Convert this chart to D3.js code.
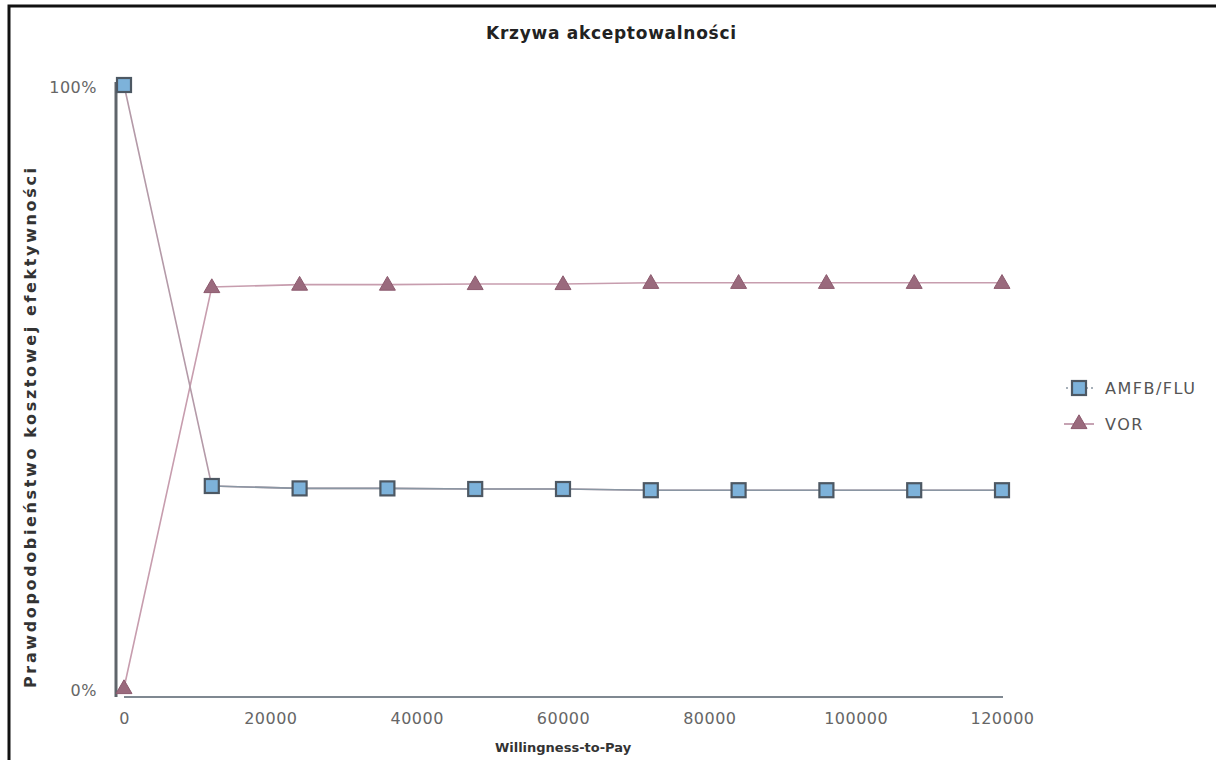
<!DOCTYPE html>
<html>
<head>
<meta charset="utf-8">
<script src="https://cdn.jsdelivr.net/npm/d3@7"></script>
<style>
  html, body { margin: 0; padding: 0; background: #ffffff; }
  svg { display: block; }
  text { font-family: "DejaVu Sans", "Liberation Sans", sans-serif; }
</style>
</head>
<body>
<svg id="chart" width="1216" height="760"></svg>
<script>
// Willingness-to-pay thresholds (x values)
const wtp = [0, 12000, 24000, 36000, 48000, 60000, 72000, 84000, 96000, 108000, 120000];
// Probability of cost-effectiveness per strategy
const amfbFlu = [1.0, 0.335, 0.331, 0.331, 0.330, 0.330, 0.328, 0.328, 0.328, 0.328, 0.328];
const vor     = [0.0, 0.665, 0.669, 0.669, 0.670, 0.670, 0.672, 0.672, 0.672, 0.672, 0.672];
const seriesNames = ["AMFB/FLU", "VOR"];
const xTicks = [0, 20000, 40000, 60000, 80000, 100000, 120000];
const yTicks = [0, 1];

const svg = d3.select("#chart");
const W = 1216, H = 760;

// outer frame
svg.append("rect").attr("x", 9).attr("y", 6).attr("width", W + 10).attr("height", H + 10)
  .attr("fill", "#fff").attr("stroke", "#111").attr("stroke-width", 3);

const x = d3.scaleLinear().domain([0, 120000]).range([124, 1002]);
const y = d3.scaleLinear().domain([0, 1]).range([688, 85]);
const axisY = 697;

// title
svg.append("text").attr("x", 611).attr("y", 39).attr("text-anchor", "middle")
  .attr("font-size", 17).attr("font-weight", 600).attr("fill", "#222")
  .attr("textLength", 250).attr("lengthAdjust", "spacing")
  .text("Krzywa akceptowalności");

// y axis line
svg.append("line").attr("x1", 116).attr("x2", 116).attr("y1", 82).attr("y2", axisY)
  .attr("stroke", "#5f656b").attr("stroke-width", 3);
// x axis line
svg.append("line").attr("x1", x(0)).attr("x2", x(120000) + 1).attr("y1", axisY).attr("y2", axisY)
  .attr("stroke", "#7f8891").attr("stroke-width", 2);

// x tick labels
const xAxis = d3.axisBottom(x).tickValues(xTicks).tickSize(0).tickPadding(0).tickFormat(d3.format("d"));
const gx = svg.append("g").attr("transform", `translate(0, ${axisY + 27})`).call(xAxis);
gx.select(".domain").remove();
gx.selectAll("text").attr("font-size", 16).attr("fill", "#666").attr("dy", 0)
  .attr("letter-spacing", 0.5)
  .attr("font-family", "\"DejaVu Sans\", sans-serif");

// y tick labels
const yAxis = d3.axisLeft(y).tickValues(yTicks).tickSize(0).tickPadding(0).tickFormat(d3.format(".0%"));
const gy = svg.append("g").attr("transform", "translate(97, 2)").call(yAxis);
gy.select(".domain").remove();
gy.selectAll("text").attr("font-size", 16).attr("fill", "#666").attr("letter-spacing", 0.5)
  .attr("font-family", "\"DejaVu Sans\", sans-serif");

// axis titles
svg.append("text").attr("x", 563).attr("y", 752).attr("text-anchor", "middle")
  .attr("font-size", 13).attr("font-weight", "bold").attr("fill", "#333").text("Willingness-to-Pay");
svg.append("text").attr("transform", "translate(36, 428) rotate(-90)").attr("text-anchor", "middle")
  .attr("font-size", 16).attr("font-weight", "bold").attr("fill", "#333")
  .attr("textLength", 520).attr("lengthAdjust", "spacing")
  .text("Prawdopodobieństwo kosztowej efektywności");

const line = d3.line().x((d, i) => x(wtp[i])).y(d => y(d));

// lines
svg.append("path").datum(vor).attr("d", line).attr("fill", "none")
  .attr("stroke", "#c79dae").attr("stroke-width", 1.6);
svg.append("path").datum(amfbFlu).attr("d", line).attr("fill", "none")
  .attr("stroke", "#b49aa8").attr("stroke-width", 1.6);
// after the first segment the AMFB/FLU line is grey-blue
svg.append("path").datum(amfbFlu.slice(1)).attr("d", d3.line().x((d, i) => x(wtp[i + 1])).y(d => y(d)))
  .attr("fill", "none").attr("stroke", "#8a96a3").attr("stroke-width", 1.6);

const tri = d3.symbol().type(d3.symbolTriangle).size(110);

function squareMarker(g, cx, cy) {
  g.append("rect").attr("x", cx - 7).attr("y", cy - 7).attr("width", 14).attr("height", 14)
    .attr("fill", "#7db2da").attr("stroke", "#4d5863").attr("stroke-width", 2.2);
}
function triMarker(g, cx, cy) {
  g.append("path").attr("d", tri).attr("transform", `translate(${cx}, ${cy + 1})`)
    .attr("fill", "#9a6a7d").attr("stroke", "#8c5a6e").attr("stroke-width", 1);
}

const mk = svg.append("g");
vor.forEach((v, i) => triMarker(mk, x(wtp[i]), y(v)));
amfbFlu.forEach((v, i) => squareMarker(mk, x(wtp[i]), y(v)));

// legend
const lg = svg.append("g");
lg.append("line").attr("x1", 1066).attr("x2", 1093).attr("y1", 388).attr("y2", 388)
  .attr("stroke", "#8a96a3").attr("stroke-width", 1.5).attr("stroke-dasharray", "2,3");
squareMarker(lg, 1079, 388);
lg.append("text").attr("x", 1105).attr("y", 394).attr("font-size", 16).attr("letter-spacing", 1.5)
  .attr("fill", "#555").text(seriesNames[0]);
lg.append("line").attr("x1", 1064).attr("x2", 1094).attr("y1", 424).attr("y2", 424)
  .attr("stroke", "#b3849a").attr("stroke-width", 1.5);
triMarker(lg, 1079, 423);
lg.append("text").attr("x", 1105).attr("y", 430).attr("font-size", 16).attr("letter-spacing", 1.5)
  .attr("fill", "#555").text(seriesNames[1]);
</script>
</body>
</html>
